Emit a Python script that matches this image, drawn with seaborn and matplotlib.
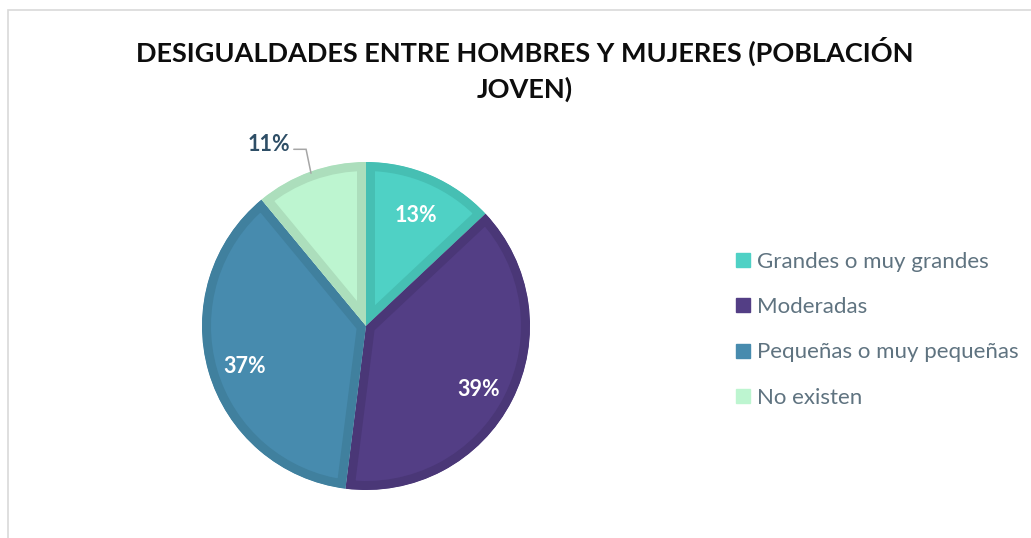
import matplotlib
matplotlib.use("Agg")
import matplotlib.pyplot as plt
import seaborn as sns
import numpy as np
from matplotlib.patches import Rectangle
from matplotlib.lines import Line2D

categories = ["Grandes o muy grandes", "Moderadas", "Pequeñas o muy pequeñas", "No existen"]
values = [13, 39, 37, 11]
labels = ["13%", "39%", "37%", "11%"]
title = "DESIGUALDADES ENTRE HOMBRES Y MUJERES (POBLACIÓN\nJOVEN)"

fill_colors = ["#4fd1c5", "#533e85", "#478bae", "#bdf5d0"]
edge_colors = ["#46bfb3", "#4a3777", "#40809e", "#acdebc"]

sns.set_theme(style="white")
plt.rcParams['font.family'] = ['Lato', 'DejaVu Sans']

W, H = 1031, 538
fig = plt.figure(figsize=(W / 100, H / 100), dpi=100)
fig.patch.set_facecolor("white")

# chart area border
fig.add_artist(Rectangle((8 / W, -0.1), 1.2, (H - 10) / H + 0.1, transform=fig.transFigure,
                         fill=False, edgecolor="#d9d9d9", linewidth=1.2))

cx, cy, R = 366, 326, 164
ax = fig.add_axes([(cx - R) / W, (H - cy - R) / H, 2 * R / W, 2 * R / H])

band_px = 9
wedges, _ = ax.pie(values, colors=fill_colors, startangle=90, counterclock=False, radius=1.0,
                   wedgeprops=dict(linewidth=2 * band_px * 0.72, joinstyle="miter"))
ax.set_xlim(-1, 1)
ax.set_ylim(-1, 1)
ax.set_aspect("equal")
ax.axis("off")
for w, ec in zip(wedges, edge_colors):
    w.set_edgecolor(ec)
    w.set_clip_on(True)
    w.set_clip_path(w)

total = sum(values)
start = 90.0
for i, (v, lab) in enumerate(zip(values, labels)):
    span = 360.0 * v / total
    mid = np.deg2rad(start - span / 2)
    start -= span
    if i < 3:
        d = 0.77
        ax.text(d * np.cos(mid), d * np.sin(mid) - 0.035, lab, ha="center", va="center",
                color="white", fontsize=15.5, fontweight="bold")
    else:
        ex, ey = 0.99 * np.cos(mid), 0.99 * np.sin(mid)
        bx, by = ex - 0.03, ey + 0.146
        sx = bx - 0.075
        ax.plot([sx, bx, ex], [by, by, ey], color="#a6a6a6", lw=1.1, clip_on=False,
                solid_joinstyle="miter")
        ax.text(sx - 0.02, by + 0.03, lab, ha="right", va="center", color="#2e4e66",
                fontsize=15.5, fontweight="bold")

fig.text(525 / W, 1 - 69 / H, title, ha="center", va="center", fontsize=19.5,
         fontweight="bold", color="#0d0d0d", linespacing=1.5)

handles = [Line2D([0], [0], marker="s", linestyle="", markersize=10.5, markerfacecolor=c,
                  markeredgecolor=c) for c in fill_colors]
leg = fig.legend(handles, categories, loc="upper left", bbox_to_anchor=(721 / W, 1 - 240.5 / H),
                 frameon=False, fontsize=16, labelspacing=1.14, handletextpad=0.1,
                 handlelength=1.0, borderpad=0)
for t in leg.get_texts():
    t.set_color("#5f7380")

fig.savefig("out.png", dpi=100, facecolor="white")
